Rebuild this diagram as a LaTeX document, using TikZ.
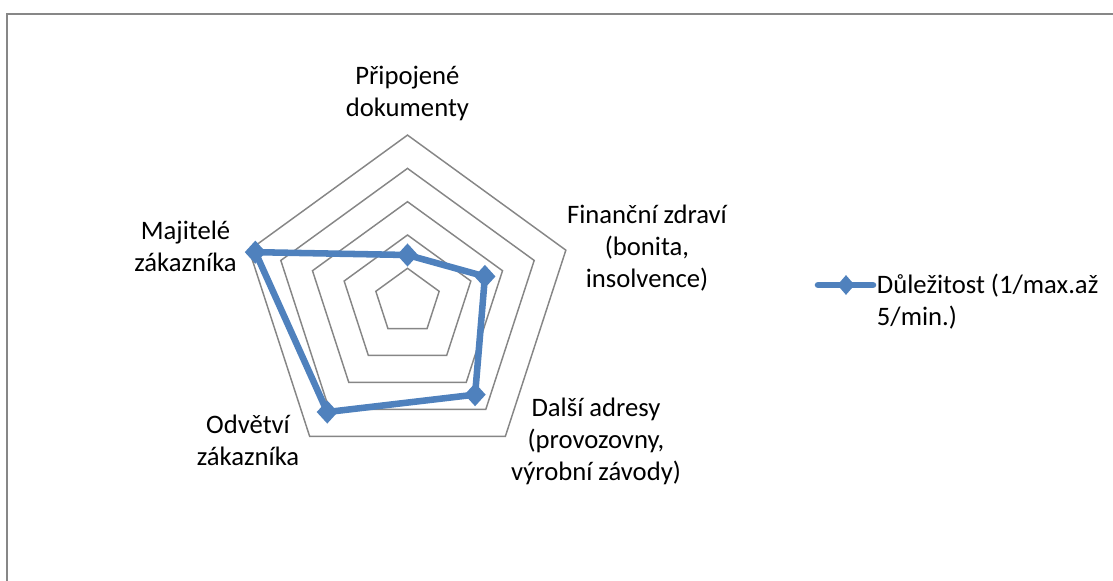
\documentclass[tikz,border=0pt]{standalone}
\usepackage{fontspec}
\setmainfont{Carlito}
\usetikzlibrary{shapes.geometric,calc}
\definecolor{gridgray}{HTML}{868686}
\definecolor{framegray}{HTML}{878787}
\definecolor{seriesblue}{HTML}{4F81BD}
\begin{document}
\begin{tikzpicture}[x=0.75pt,y=-0.75pt,
  ring/.style={draw=gridgray,line width=1.1pt,line join=miter},
  series/.style={draw=seriesblue,line width=4.9pt,line join=round,line cap=round},
  marker/.style={diamond,fill=seriesblue,inner sep=0pt,minimum width=16pt,minimum height=17.5pt},
  labeltext/.style={font=\fontsize{20}{24}\selectfont,inner sep=0pt},
  axislabel/.style={labeltext,align=center,anchor=base},
]
\useasboundingbox (0,0) rectangle (1113,581);
% chart area frame (runs past the right and bottom edges)
\begin{scope}
  \clip (0,0) rectangle (1113,581);
  \draw[framegray,line width=1.6pt] (7.3,1200) -- (7.3,13.8) -- (1500,13.8);
\end{scope}
% radar grid: five concentric pentagons
\coordinate (c) at (407.5,301.6);
\foreach \k in {1,...,5}{
  \draw[ring,shift={(c)}] (-90:\k*33.3) -- (-18:\k*33.3) -- (54:\k*33.3)
     -- (126:\k*33.3) -- (198:\k*33.3) -- cycle;
}
% data points
\coordinate (d1) at ($(c)+(-90:46.6)$);
\coordinate (d2) at ($(c)+(-18:81.4)$);
\coordinate (d3) at ($(c)+(54:115)$);
\coordinate (d4) at ($(c)+(126:136.5)$);
\coordinate (d5) at ($(c)+(198:160)$);
\draw[series] (d1) -- (d2) -- (d3) -- (d4) -- (d5) -- cycle;
\foreach \i in {1,...,5}{
  \node[marker] (m\i) at (d\i) {};
}
% axis labels (anchored at the baseline of the last line)
\node[axislabel] (l1) at (407.4,117) {Připojené\\dokumenty};
\node[axislabel] (l2) at (647,287.3) {Finanční zdraví\\(bonita,\\insolvence)};
\node[axislabel] (l3) at (596,480.7) {Další adresy\\(provozovny,\\výrobní závody)};
\node[axislabel] (l4) at (248,465) {Odvětví\\zákazníka};
\node[axislabel] (l5) at (185.5,271.7) {Majitelé\\zákazníka};
% legend
\coordinate (ka) at (818,285);
\coordinate (kb) at (873,285);
\draw[series] (ka) -- (kb);
\node[marker,minimum width=13pt,minimum height=15pt] (km) at (846,285) {};
\node[labeltext,anchor=base west,align=left] (kt)
  at (876.7,325) {Důležitost (1/max.až\\5/min.)};
\end{tikzpicture}
\end{document}
